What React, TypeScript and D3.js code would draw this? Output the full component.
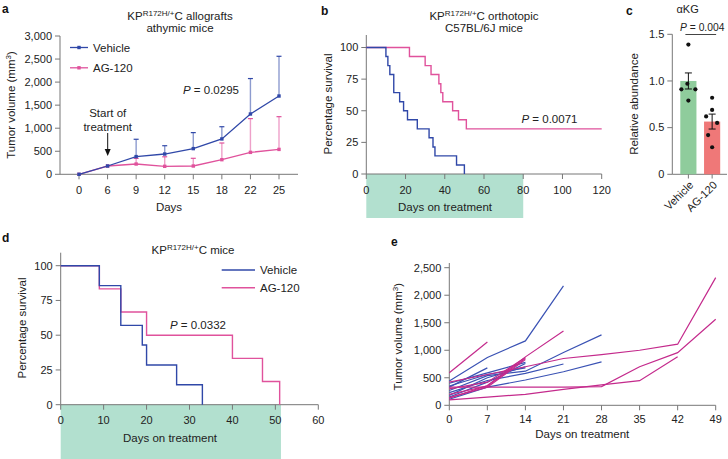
import React from 'react';
import * as d3 from 'd3';

// ---------- DATA ----------
// Panel a
const aDays = ['0', '6', '9', '12', '15', '18', '22', '25'];
const aVehicleMean = [0, 180, 384, 440, 557, 767, 1308, 1698];
const aVehicleUpper = [0, 180, 760, 620, 904, 1032, 2077, 2560];
const aAgMean = [0, 180, 223, 173, 180, 317, 476, 540];
const aAgUpper = [0, 180, 345, 380, 347, 679, 1208, 1250];
const aYTicks = [0, 500, 1000, 1500, 2000, 2500, 3000];

// Panel b (Kaplan–Meier)
const bVehicleDays = [0, 10, 11, 12, 14, 17, 19, 21, 26, 32, 34, 35, 46, 50];
const bVehicleSurv = [100, 92.9, 85.7, 78.6, 64.3, 57.1, 50, 42.9, 35.7, 28.6, 21.4, 14.3, 7.1, 0];
const bAgDays = [0, 22, 30, 33, 37, 38, 39, 44, 47, 51, 120];
const bAgSurv = [100, 92.9, 85.7, 78.6, 71.4, 64.3, 57.1, 50, 42.9, 35.7, 35.7];
const bXTicks = [0, 20, 40, 60, 80, 100, 120];
const survTicks = [0, 25, 50, 75, 100];

// Panel c
const cGroups = ['Vehicle', 'AG-120'];
const cMeans = [1.0, 0.565];
const cSem = [0.086, 0.08];
const cVehiclePoints = [1.39, 0.97, 0.91, 0.91, 0.79];
const cAgPoints = [0.82, 0.69, 0.62, 0.55, 0.42, 0.29];
const cYTicks = [0, 0.5, 1.0, 1.5];

// Panel d
const dVehicleDays = [0, 9, 14, 19, 20, 27, 33];
const dVehicleSurv = [100, 85.7, 57.1, 42.9, 28.6, 14.3, 0];
const dAgDays = [0, 9, 14, 20, 40, 47, 51];
const dAgSurv = [100, 83.3, 66.7, 50, 33.3, 16.7, 0];
const dXTicks = [0, 10, 20, 30, 40, 50, 60];

// Panel e (individual tumours) : [day, volume]
const eVehicle: [number, number][][] = [
  [[0, 440], [7, 870], [14, 1170], [21, 2170]],
  [[0, 330], [7, 680]],
  [[0, 270], [7, 540], [14, 620], [21, 960], [28, 1280]],
  [[0, 110], [7, 330], [14, 460], [21, 610], [28, 790]],
  [[0, 230], [7, 450], [14, 580], [21, 750]],
  [[0, 400], [7, 590], [14, 780]],
  [[0, 180], [7, 500], [14, 700]],
  [[0, 350], [7, 560], [14, 680]],
  [[0, 150], [7, 420], [14, 760]],
];
const eAg: [number, number][][] = [
  [[0, 590], [7, 1150]],
  [[0, 130], [7, 360], [14, 880], [21, 1350]],
  [[0, 420], [7, 560], [14, 700], [21, 850], [28, 920], [35, 1000], [42, 1110], [49, 2320]],
  [[0, 330], [7, 330], [14, 330], [21, 330], [28, 340], [35, 700], [42, 956], [49, 1563]],
  [[0, 100], [7, 150], [14, 200], [21, 290], [28, 370], [35, 447], [42, 884]],
  [[0, 200], [7, 350], [14, 850]],
  [[0, 140], [7, 330], [14, 830]],
  [[0, 300], [7, 420], [14, 870]],
];
const eXTicks = [0, 7, 14, 21, 28, 35, 42, 49];
const eYTicks = [0, 500, 1000, 1500, 2000, 2500];

// ---------- STYLE ----------
const FONT = 'Liberation Sans, Arial, Helvetica, sans-serif';
const BLUE = '#3048a8';
const PINK = '#e0529c';
const E_BLUE = '#3a52b4';
const E_PINK = '#c42a8c';
const AXIS = '#777';
const TXT = '#222';
const MINT = '#b2e0cf';
const GREEN = '#8fcc9c';
const RED = '#ef7878';
const FS = 11;
const jitterV = [0, -1, -7, 7, 0];
const jitterA = [0, 0, -6, 5, -4, 0];

const fmt = d3.format(',');

function KPTitle({ x, y, rest }: { x: number; y: number; rest: string }) {
  return (
    <text x={x} y={y} textAnchor="middle" fontSize={11.5} fill={TXT}>
      KP<tspan fontSize={8} dy={-4}>R172H/+</tspan>
      <tspan dy={4}>{rest}</tspan>
    </text>
  );
}

function PText({ x, y, v, size = 11.5 }: { x: number; y: number; v: string; size?: number }) {
  return (
    <text x={x} y={y} fontSize={size} fill={TXT}>
      <tspan fontStyle="italic">P</tspan> = {v}
    </text>
  );
}

function YAxis({ x, y0, y1, ticks, scale, format }: any) {
  return (
    <g>
      <line x1={x} x2={x} y1={y0} y2={y1} stroke={AXIS} strokeWidth={1} />
      {ticks.map((t: number) => (
        <g key={t}>
          <line x1={x - 5} x2={x} y1={scale(t)} y2={scale(t)} stroke={AXIS} />
          <text x={x - 8} y={scale(t)} dy="0.35em" textAnchor="end" fontSize={FS} fill={TXT}>
            {format ? format(t) : t}
          </text>
        </g>
      ))}
    </g>
  );
}

function XAxis({ y, x0, x1, ticks, scale, labelY, labels }: any) {
  return (
    <g>
      <line x1={x0} x2={x1} y1={y} y2={y} stroke={AXIS} strokeWidth={1} />
      {ticks.map((t: any, i: number) => (
        <g key={String(t)}>
          <line x1={scale(t)} x2={scale(t)} y1={y} y2={y + 5} stroke={AXIS} />
          <text x={scale(t)} y={labelY} dy="0.35em" textAnchor="middle" fontSize={FS} fill={TXT}>
            {labels ? labels[i] : t}
          </text>
        </g>
      ))}
    </g>
  );
}

function RotLabel({ x, y, children }: any) {
  return (
    <text transform={`translate(${x},${y}) rotate(-90)`} textAnchor="middle" dy="0.35em" fontSize={11.5} fill={TXT}>
      {children}
    </text>
  );
}

export default function App() {
  // ---- Panel a ----
  const ax = d3.scalePoint<string>().domain(aDays).range([79, 279]);
  const ay = d3.scaleLinear().domain([0, 3000]).range([174.3, 36]);
  const aLine = d3
    .line<number>()
    .x((_, i) => ax(aDays[i]) as number)
    .y((d) => ay(d));

  // ---- Panel b ----
  const bx = d3.scaleLinear().domain([0, 120]).range([366.3, 601.7]);
  const by = d3.scaleLinear().domain([0, 100]).range([174, 47.5]);
  const kmLine = (xs: any, ys: any) =>
    d3
      .line<[number, number]>()
      .x((d) => xs(d[0]))
      .y((d) => ys(d[1]))
      .curve(d3.curveStepAfter);
  const zip = (a: number[], b: number[]) => a.map((v, i) => [v, b[i]] as [number, number]);

  // ---- Panel c ----
  const cx = d3.scaleBand<string>().domain(cGroups).range([676.5, 724]).paddingInner(0.32).paddingOuter(0.16);
  const cy = d3.scaleLinear().domain([0, 1.5]).range([174.3, 34.3]);

  // ---- Panel d ----
  const dx = d3.scaleLinear().domain([0, 60]).range([60.7, 318.3]);
  const dy = d3.scaleLinear().domain([0, 100]).range([404.7, 265.7]);

  // ---- Panel e ----
  const ex = d3.scaleLinear().domain([0, 49]).range([449.3, 715.7]);
  const ey = d3.scaleLinear().domain([0, 2500]).range([405.3, 267.7]);
  const eLine = d3
    .line<[number, number]>()
    .x((d) => ex(d[0]))
    .y((d) => ey(d[1]));

  const errBar = (i: number, mean: number[], upper: number[], color: string) => {
    if (upper[i] <= mean[i]) return null;
    const x = ax(aDays[i]) as number;
    return (
      <g key={i}>
        <line x1={x} x2={x} y1={ay(mean[i])} y2={ay(upper[i])} stroke={color} strokeOpacity={0.55} strokeWidth={1.4} />
        <line x1={x - 2.5} x2={x + 2.5} y1={ay(upper[i])} y2={ay(upper[i])} stroke={color} strokeWidth={1.2} />
      </g>
    );
  };

  return (
    <svg
      width={728}
      height={459}
      style={{ position: 'absolute', left: 0, top: 0, background: '#fff' }}
      fontFamily={FONT}
    >
      <rect x={0} y={0} width={728} height={459} fill="#fff" />

      {/* ================= Panel a ================= */}
      <text x={2} y={13} fontSize={12} fontWeight="bold" fill="#111">a</text>
      <KPTitle x={180} y={20} rest="C allografts" />
      <text x={180} y={32} textAnchor="middle" fontSize={11.5} fill={TXT}>athymic mice</text>
      <YAxis x={60} y0={36} y1={174.3} ticks={aYTicks} scale={ay} format={fmt} />
      <XAxis y={174.3} x0={60} x1={298} ticks={aDays} scale={ax} labelY={190} />
      <text x={169} y={207} dy="0.35em" textAnchor="middle" fontSize={11.5} fill={TXT}>Days</text>
      <RotLabel x={11} y={105}>
        Tumor volume (mm<tspan fontSize={8} dy={-4}>3</tspan><tspan dy={4}>)</tspan>
      </RotLabel>
      {aDays.map((_, i) => errBar(i, aAgMean, aAgUpper, PINK))}
      {aDays.map((_, i) => errBar(i, aVehicleMean, aVehicleUpper, BLUE))}
      <path d={aLine(aAgMean.slice()) as string} fill="none" stroke={PINK} strokeWidth={1.3} />
      {aAgMean.map((v, i) => (
        <rect key={i} x={(ax(aDays[i]) as number) - 1.7} y={ay(v) - 1.7} width={3.4} height={3.4} fill={PINK} />
      ))}
      <path d={aLine(aVehicleMean) as string} fill="none" stroke={BLUE} strokeWidth={1.3} />
      {aVehicleMean.map((v, i) => (
        <rect key={i} x={(ax(aDays[i]) as number) - 1.7} y={ay(v) - 1.7} width={3.4} height={3.4} fill={BLUE} />
      ))}
      {/* legend */}
      <line x1={70} x2={88} y1={47.5} y2={47.5} stroke={BLUE} strokeWidth={1.3} />
      <rect x={77.3} y={45.8} width={3.4} height={3.4} fill={BLUE} />
      <text x={93} y={47.5} dy="0.35em" fontSize={11.5} fill={TXT}>Vehicle</text>
      <line x1={70} x2={88} y1={67.8} y2={67.8} stroke={PINK} strokeWidth={1.3} />
      <rect x={77.3} y={66.1} width={3.4} height={3.4} fill={PINK} />
      <text x={93} y={67.8} dy="0.35em" fontSize={11.5} fill={TXT}>AG-120</text>
      <PText x={183} y={94} v="0.0295" />
      <text x={107.7} y={113} dy="0.35em" textAnchor="middle" fontSize={11.5} fill={TXT}>Start of</text>
      <text x={107.7} y={126.5} dy="0.35em" textAnchor="middle" fontSize={11.5} fill={TXT}>treatment</text>
      <line x1={107.7} x2={107.7} y1={133} y2={150} stroke="#111" strokeWidth={1} />
      <path d="M104.7,149 L110.7,149 L107.7,156 Z" fill="#111" />

      {/* ================= Panel b ================= */}
      <text x={321} y={15} fontSize={12} fontWeight="bold" fill="#111">b</text>
      <KPTitle x={484} y={20} rest="C orthotopic" />
      <text x={484} y={32} textAnchor="middle" fontSize={11.5} fill={TXT}>C57BL/6J mice</text>
      <rect x={bx(0)} y={174} width={bx(80) - bx(0)} height={44} fill={MINT} />
      <YAxis x={366.3} y0={35} y1={174} ticks={survTicks} scale={by} />
      <XAxis y={174} x0={366.3} x1={601.7} ticks={bXTicks} scale={bx} labelY={190} />
      <text x={445} y={207} dy="0.35em" textAnchor="middle" fontSize={11.5} fill={TXT}>Days on treatment</text>
      <RotLabel x={327.5} y={104}>Percentage survival</RotLabel>
      <path d={kmLine(bx, by)(zip(bAgDays, bAgSurv)) as string} fill="none" stroke={PINK} strokeWidth={1.4} />
      <path d={kmLine(bx, by)(zip(bVehicleDays, bVehicleSurv)) as string} fill="none" stroke={BLUE} strokeWidth={1.4} />
      <PText x={521.5} y={123} v="0.0071" />

      {/* ================= Panel c ================= */}
      <text x={626} y={15} fontSize={12} fontWeight="bold" fill="#111">c</text>
      <text x={676.5} y={9} dy="0.35em" fontSize={11} fill={TXT}>αKG</text>
      <YAxis x={672.3} y0={34.3} y1={174.3} ticks={cYTicks} scale={cy} format={(t: number) => (t === 0 ? '0' : t.toFixed(1))} />
      <line x1={672.3} x2={727} y1={174.3} y2={174.3} stroke={AXIS} />
      <RotLabel x={634} y={104}>Relative abundance</RotLabel>
      {cGroups.map((g, i) => {
        const x0 = cx(g) as number;
        const w = cx.bandwidth();
        return (
          <g key={g}>
            <rect x={x0} y={cy(cMeans[i])} width={w} height={cy(0) - cy(cMeans[i])} fill={i === 0 ? GREEN : RED} />
            <line x1={x0 + w / 2} x2={x0 + w / 2} y1={cy(cMeans[i] - cSem[i])} y2={cy(cMeans[i] + cSem[i])} stroke="#111" strokeWidth={1} />
            <line x1={x0 + w / 2 - 3.5} x2={x0 + w / 2 + 3.5} y1={cy(cMeans[i] + cSem[i])} y2={cy(cMeans[i] + cSem[i])} stroke="#111" />
            <line x1={x0 + w / 2 - 3.5} x2={x0 + w / 2 + 3.5} y1={cy(cMeans[i] - cSem[i])} y2={cy(cMeans[i] - cSem[i])} stroke="#111" />
            <line x1={x0 + w / 2} x2={x0 + w / 2} y1={174.3} y2={178.5} stroke={AXIS} />
            <text
              transform={`translate(${x0 + w / 2 + 3},${183}) rotate(-45)`}
              textAnchor="end"
              dy="0.35em"
              fontSize={11}
              fill={TXT}
            >
              {g}
            </text>
          </g>
        );
      })}
      {cVehiclePoints.map((v, i) => (
        <circle key={'v' + i} cx={(cx('Vehicle') as number) + cx.bandwidth() / 2 + jitterV[i]} cy={cy(v)} r={2.1} fill="#111" />
      ))}
      {cAgPoints.map((v, i) => (
        <circle key={'a' + i} cx={(cx('AG-120') as number) + cx.bandwidth() / 2 + jitterA[i]} cy={cy(v)} r={2.1} fill="#111" />
      ))}
      <line
        x1={(cx('Vehicle') as number) + cx.bandwidth() / 2 - 3}
        x2={(cx('AG-120') as number) + cx.bandwidth() / 2 + 4}
        y1={34.5}
        y2={34.5}
        stroke="#444"
      />
      <PText x={680} y={31} v="0.004" size={10.3} />

      {/* ================= Panel d ================= */}
      <text x={2} y={242} fontSize={12} fontWeight="bold" fill="#111">d</text>
      <KPTitle x={193} y={254} rest="C mice" />
      <rect x={dx(0)} y={404.7} width={dx(51.3) - dx(0)} height={54.3} fill={MINT} />
      <YAxis x={60.7} y0={252.7} y1={404.7} ticks={survTicks} scale={dy} />
      <XAxis y={404.7} x0={60.7} x1={318.3} ticks={dXTicks} scale={dx} labelY={420} />
      <text x={170} y={438.3} dy="0.35em" textAnchor="middle" fontSize={11.5} fill={TXT}>Days on treatment</text>
      <RotLabel x={21.7} y={328}>Percentage survival</RotLabel>
      <path d={kmLine(dx, dy)(zip(dAgDays, dAgSurv)) as string} fill="none" stroke={PINK} strokeWidth={1.4} />
      <path d={kmLine(dx, dy)(zip(dVehicleDays, dVehicleSurv)) as string} fill="none" stroke={BLUE} strokeWidth={1.4} />
      <line x1={221.7} x2={255} y1={270} y2={270} stroke={BLUE} strokeWidth={1.4} />
      <text x={260} y={270} dy="0.35em" fontSize={11.5} fill={TXT}>Vehicle</text>
      <line x1={221.7} x2={255} y1={287.7} y2={287.7} stroke={PINK} strokeWidth={1.4} />
      <text x={260} y={287.7} dy="0.35em" fontSize={11.5} fill={TXT}>AG-120</text>
      <PText x={170} y={328.5} v="0.0332" />

      {/* ================= Panel e ================= */}
      <text x={391} y={246} fontSize={12} fontWeight="bold" fill="#111">e</text>
      <YAxis x={449.3} y0={263} y1={405.3} ticks={eYTicks} scale={ey} format={fmt} />
      <XAxis y={405.3} x0={449.3} x1={715.7} ticks={eXTicks} scale={ex} labelY={419.5} />
      <text x={582.3} y={434} dy="0.35em" textAnchor="middle" fontSize={11.5} fill={TXT}>Days on treatment</text>
      <RotLabel x={398.3} y={336.7}>
        Tumor volume (mm<tspan fontSize={8} dy={-4}>3</tspan><tspan dy={4}>)</tspan>
      </RotLabel>
      {eVehicle.map((s, i) => (
        <path key={'ev' + i} d={eLine(s) as string} fill="none" stroke={E_BLUE} strokeWidth={1.2} />
      ))}
      {eAg.map((s, i) => (
        <path key={'ea' + i} d={eLine(s) as string} fill="none" stroke={E_PINK} strokeWidth={1.2} />
      ))}
    </svg>
  );
}
